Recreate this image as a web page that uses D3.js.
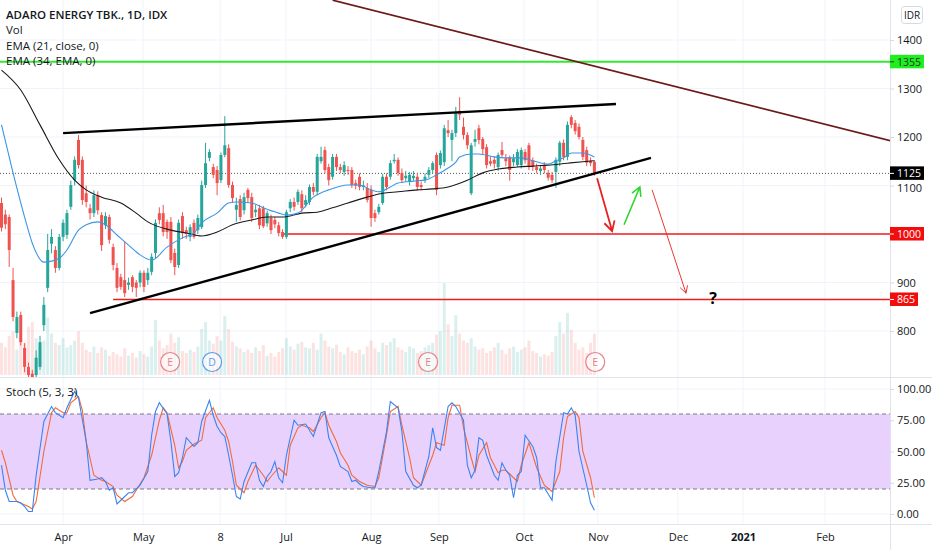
<!DOCTYPE html>
<meta charset="utf-8">
<style>
body { margin: 0; background: #fff; font-family: "Open Sans", "Noto Sans", Arial, sans-serif; }
.axis text { fill: #131722; font-size: 11px; font-family: "Open Sans", Arial, sans-serif; }
.axis path, .axis line { stroke: #d6d9e0; }
.legend { font-size: 11.5px; fill: #131722; }
</style>
<body>
<script src="https://cdnjs.cloudflare.com/ajax/libs/d3/7.8.5/d3.min.js"></script>
<script>

var width = 932, height = 550, axisX = 890;

// daily candles, 9 Mar - 30 Oct 2020
var open = [1064,1040,1035,905,796,833,765,726,712,709,726,812,889,980,967,930,994,998,1056,1111,
  1194,1153,1084,1053,1043,1080,1039,1018,1035,973,930,911,905,895,911,900,900,920,905,922,
  961,1043,1043,1025,1025,961,936,1037,1008,994,1023,1008,1014,1101,1157,1138,1132,1111,1163,1177,
  1101,1050,1072,1049,1091,1076,1045,1053,1053,1022,1033,1029,1018,1004,994,1053,1066,1066,1082,1060,
  1066,1097,1087,1150,1173,1138,1118,1159,1138,1128,1132,1132,1105,1118,1097,1095,1091,1043,1045,1064,
  1118,1118,1150,1153,1126,1115,1108,1115,1118,1101,1112,1122,1132,1163,1142,1148,1214,1194,1208,1254,
  1221,1204,1084,1190,1218,1196,1179,1150,1153,1138,1173,1156,1158,1148,1142,1142,1169,1183,1152,1138,
  1130,1142,1126,1122,1128,1149,1188,1159,1241,1229,1221,1194,1173,1151,1149];
var high = [1075,1050,1040,930,840,840,775,735,720,760,790,870,1000,1010,975,1000,1030,1050,1110,1160,
  1204,1160,1100,1062,1090,1088,1045,1045,1040,980,940,918,985,910,915,905,925,925,930,960,
  1030,1055,1060,1030,1035,970,1030,1045,1015,1020,1030,1040,1110,1188,1175,1145,1140,1168,1243,1185,
  1108,1075,1080,1085,1095,1085,1060,1060,1058,1048,1040,1035,1025,1010,1050,1072,1075,1092,1090,1080,
  1102,1105,1165,1180,1180,1145,1165,1165,1145,1150,1140,1138,1112,1125,1110,1105,1100,1050,1062,1124,
  1125,1152,1165,1158,1135,1130,1128,1130,1125,1108,1125,1138,1150,1168,1172,1225,1235,1215,1262,1282,
  1240,1210,1188,1215,1225,1200,1185,1160,1160,1168,1190,1165,1162,1165,1175,1178,1175,1188,1158,1145,
  1140,1148,1132,1128,1158,1192,1195,1232,1245,1235,1228,1200,1180,1158,1152];
var low = [1005,1010,932,820,785,770,715,695,690,700,720,800,880,960,920,925,985,990,1050,1100,
  1135,1060,1055,1030,1035,1040,965,1010,980,925,880,885,870,885,880,870,890,880,895,915,
  950,1020,995,990,940,915,930,990,990,985,990,1000,1010,1095,1150,1115,1080,1105,1158,1095,
  1065,1025,1028,1040,1065,1025,1035,1010,1012,1015,1000,1012,995,990,990,1045,1048,1060,1045,1055,
  1060,1080,1080,1145,1125,1100,1112,1130,1125,1120,1122,1095,1092,1090,1090,1065,1015,1025,1040,1060,
  1090,1112,1145,1120,1105,1108,1100,1110,1090,1090,1105,1115,1125,1080,1135,1140,1200,1150,1200,1235,
  1195,1175,1080,1180,1185,1165,1135,1140,1135,1130,1158,1140,1110,1140,1138,1135,1145,1132,1130,1125,
  1122,1125,1110,1105,1095,1140,1152,1152,1218,1205,1195,1152,1140,1140,1120];
var close = [1013,1020,967,829,829,777,726,709,698,745,777,854,967,994,930,994,1023,1043,1101,1153,
  1142,1070,1066,1043,1080,1049,977,1037,988,936,889,891,878,900,891,889,920,891,920,953,
  1023,1029,1004,1004,946,932,1023,1002,1000,1014,994,1033,1101,1146,1169,1122,1105,1163,1183,1101,
  1074,1060,1035,1076,1074,1033,1050,1018,1016,1043,1008,1020,1002,994,1045,1066,1056,1087,1053,1070,
  1097,1087,1159,1159,1132,1111,1159,1138,1132,1142,1130,1101,1100,1097,1100,1070,1033,1033,1056,1118,
  1097,1146,1153,1126,1111,1120,1122,1120,1097,1097,1118,1132,1146,1091,1167,1218,1208,1208,1252,1246,
  1204,1183,1183,1196,1194,1175,1142,1145,1145,1163,1163,1150,1132,1156,1169,1173,1152,1138,1138,1132,
  1135,1132,1116,1111,1153,1188,1159,1225,1225,1212,1200,1159,1147,1146,1125];
var volume = [70,60,85,95,55,80,70,105,115,80,60,75,125,90,70,65,80,60,65,75,
  95,70,55,50,62,48,60,55,42,50,45,40,58,42,48,38,52,45,40,62,
  120,75,58,65,90,70,82,52,48,55,50,62,100,115,75,68,85,75,128,100,
  72,62,58,50,55,48,60,52,65,42,48,40,50,58,80,62,55,68,72,60,
  58,70,55,90,75,62,58,66,50,45,60,52,48,55,45,62,75,58,50,70,
  65,72,80,60,55,50,62,58,48,52,60,65,70,88,95,200,110,85,130,90,
  75,70,80,62,55,58,48,52,60,70,55,45,58,62,50,55,60,75,52,48,
  40,45,42,50,85,115,90,135,98,70,55,60,48,70,90];

// moving averages: [bar, price]
var ema21 = [[0,1225],[3,1126],[6,1035],[8,981],[11,942],[15,950],[17,967],[20,1008],[22,1019],[25,1025],
  [27,1019],[30,998],[33,977],[36,957],[39,946],[43,973],[47,992],[50,1002],[52,1023],[56,1043],
  [59,1064],[61,1066],[65,1064],[68,1054],[72,1043],[74,1039],[77,1043],[81,1076],[85,1091],[90,1101],
  [93,1101],[96,1091],[98,1087],[101,1097],[103,1105],[107,1109],[110,1111],[113,1122],[116,1136],[118,1148],
  [119,1159],[122,1165],[124,1165],[128,1159],[131,1157],[135,1157],[138,1151],[142,1144],[144,1151],[146,1157],
  [148,1167],[151,1167],[154,1159]];
var ema34 = [[0,1338],[5,1297],[10,1225],[15,1153],[19,1111],[22,1091],[26,1076],[31,1064],[35,1043],[38,1025],
  [44,1008],[48,1002],[52,996],[56,1004],[60,1019],[65,1029],[69,1035],[73,1035],[78,1043],[82,1045],
  [86,1054],[90,1064],[95,1076],[99,1084],[103,1087],[108,1091],[112,1093],[116,1097],[121,1111],[125,1126],
  [129,1134],[134,1138],[138,1140],[142,1142],[147,1146],[151,1149],[154,1151]];

// stochastic (5,3,3): [bar, value]
var stochK = [[0,39],[1,19],[2,10],[4,10],[5,9],[6,6],[7,2],[8,2],[9,31],[11,74],[13,86],[14,81],[16,77],[17,85],
  [19,98],[20,93],[22,58],[23,27],[25,28],[26,29],[27,26],[28,19],[29,21],[30,8],[31,11],[33,17],[34,17],[36,23],
  [38,34],[39,63],[40,82],[41,89],[43,80],[44,58],[45,30],[46,33],[47,45],[48,61],[50,54],[51,57],[52,74],[54,91],
  [55,79],[56,70],[57,65],[58,62],[59,47],[60,31],[61,14],[62,12],[63,26],[65,41],[66,41],[67,27],[68,22],[69,30],
  [70,34],[71,42],[72,29],[73,25],[74,47],[76,75],[77,71],[79,72],[81,62],[83,81],[84,82],[85,61],[86,54],[87,47],
  [88,38],[90,34],[91,26],[92,27],[93,24],[94,22],[96,21],[97,21],[98,34],[100,66],[101,90],[103,85],[104,66],
  [105,34],[107,23],[108,21],[109,23],[111,46],[112,69],[113,53],[114,51],[116,86],[117,89],[118,86],[120,75],
  [121,39],[122,29],[123,35],[124,61],[125,59],[126,47],[128,31],[129,27],[130,41],[131,35],[132,31],[133,13],
  [134,31],[135,34],[136,63],[138,54],[139,45],[140,21],[141,21],[143,11],[144,42],[146,81],[147,80],[148,85],
  [149,79],[150,50],[152,23],[153,9],[154,3]];
var stochD = [[0,51],[1,41],[3,15],[4,10],[7,6],[8,4],[9,10],[11,50],[13,81],[14,85],[16,81],[17,81],[18,89],
  [20,94],[21,83],[22,58],[24,31],[26,27],[27,26],[29,22],[30,15],[32,10],[34,14],[35,19],[37,29],[39,47],[41,75],
  [42,85],[43,81],[45,55],[46,37],[47,42],[48,51],[50,56],[52,59],[53,77],[55,85],[56,77],[58,67],[59,58],[60,42],
  [61,23],[63,17],[64,26],[66,39],[68,31],[69,26],[70,30],[72,37],[73,34],[74,31],[75,55],[77,69],[78,71],[80,69],
  [81,66],[83,77],[84,81],[85,71],[87,58],[88,49],[90,39],[91,31],[93,26],[95,23],[97,22],[98,29],[100,63],
  [101,82],[103,86],[104,71],[106,45],[107,29],[109,23],[110,31],[112,47],[113,57],[115,55],[116,77],[117,87],
  [119,87],[120,69],[122,45],[123,34],[124,47],[126,57],[127,45],[129,33],[130,35],[131,35],[133,29],[134,26],
  [135,39],[137,57],[139,37],[141,23],[143,18],[145,34],[146,61],[147,78],[149,82],[150,77],[151,50],[153,29],
  [154,13]];

var priceTicks = [800,900,1100,1200,1300,1400];
var gridPrices = [800,900,1000,1100,1200,1300,1400];
var stochTicks = [0,25,50,75,100];
var timeTicks = [16,36.8,56.8,73.9,96,113.6,135.7,154.9,175.7,192.6,213.9];
var timeLabels = ["Apr","May","8","Jul","Aug","Sep","Oct","Nov","Dec","2021","Feb"];

var eventBars = [43.8,54.7,110.8,154.2];
var eventTypes = ["E","D","E","E"];

// drawings
var upperTrend = [[16,1208],[159.6,1268]];
var lowerTrend = [[23,837],[168.7,1157]];
var brownLine = [[86,1482],[232,1190]];
var level1355 = 1355, level1000 = 1000, level865 = 865, lastPrice = 1125;
var start1000 = 73, start865 = 29;
var redArrow = [[154.7,1115],[158.6,1006]];
var greenArrow = [[161.7,1019],[165.8,1097]];
var thinArrow = [[169,1091],[177.8,878]];
var questionAt = [184.8,868];

var up = "#26a69a", down = "#ef5350";

var x = d3.scaleLinear().domain([0,154]).range([1.5,594.4]);
var y = d3.scaleLinear().domain([800,1400]).range([331,40]);
var yVol = d3.scaleLinear().domain([0,200]).range([375,283]);
var yS = d3.scaleLinear().domain([0,100]).range([514,389]);

var svg = d3.select("body").append("svg")
    .attr("width", width)
    .attr("height", height);

svg.append("defs").append("clipPath").attr("id","mainClip")
  .append("rect").attr("x",0).attr("y",0).attr("width",axisX).attr("height",377);

// grid
svg.selectAll(".hgrid").data(gridPrices).enter().append("line")
    .attr("x1",0).attr("x2",axisX)
    .attr("y1",function(d){ return y(d); }).attr("y2",function(d){ return y(d); })
    .style("stroke","#f0f3fa");
svg.selectAll(".sgrid").data(stochTicks).enter().append("line")
    .attr("x1",0).attr("x2",axisX)
    .attr("y1",function(d){ return yS(d); }).attr("y2",function(d){ return yS(d); })
    .style("stroke","#f0f3fa");
svg.selectAll(".vgrid").data(timeTicks).enter().append("line")
    .attr("x1",function(d){ return x(d); }).attr("x2",function(d){ return x(d); })
    .attr("y1",0).attr("y2",524)
    .style("stroke","#f0f3fa");

var main = svg.append("g").attr("clip-path","url(#mainClip)");

// volume
main.selectAll(".vol").data(volume).enter().append("rect")
    .attr("x",function(d,i){ return x(i) - 1.5; })
    .attr("width",3)
    .attr("y",function(d){ return yVol(d); })
    .attr("height",function(d){ return 375 - yVol(d); })
    .style("fill",function(d,i){ return close[i] >= open[i] ? up : down; })
    .style("opacity",0.17);

// events
var ev = main.selectAll(".ev").data(eventBars).enter().append("g")
    .attr("transform",function(d){ return "translate(" + x(d) + ",362)"; });
ev.append("circle").attr("r",9.5)
    .style("fill","rgba(255,255,255,0.6)")
    .style("stroke",function(d,i){ return eventTypes[i] == "D" ? "#5d9ce8" : "#e5838a"; })
    .style("stroke-width",1.2);
ev.append("text").attr("text-anchor","middle").attr("dy","0.36em")
    .style("font-size","10.5px")
    .style("fill",function(d,i){ return eventTypes[i] == "D" ? "#5d9ce8" : "#e5838a"; })
    .text(function(d,i){ return eventTypes[i]; });

// last price dotted line
main.append("line").attr("x1",0).attr("x2",axisX)
    .attr("y1",y(lastPrice)).attr("y2",y(lastPrice))
    .style("stroke","#555").style("stroke-dasharray","1,2").style("stroke-width",1);

// horizontal levels
main.append("line").attr("x1",0).attr("x2",axisX)
    .attr("y1",y(level1355)).attr("y2",y(level1355))
    .style("stroke","#33e833").style("stroke-width",2);
main.append("line").attr("x1",x(start1000)).attr("x2",axisX)
    .attr("y1",y(level1000)).attr("y2",y(level1000))
    .style("stroke","#ee1c1c").style("stroke-width",1.6);
main.append("line").attr("x1",x(start865)).attr("x2",axisX)
    .attr("y1",y(level865)).attr("y2",y(level865))
    .style("stroke","#ee1c1c").style("stroke-width",1.6);

var pline = d3.line().x(function(d){ return x(d[0]); }).y(function(d){ return y(d[1]); });

main.append("path").attr("d",pline(brownLine))
    .style("fill","none").style("stroke","#6b1a1a").style("stroke-width",1.8);

// candles
var c = main.selectAll(".candle").data(close).enter().append("g");
c.append("line")
    .attr("x1",function(d,i){ return x(i); }).attr("x2",function(d,i){ return x(i); })
    .attr("y1",function(d,i){ return y(high[i]); }).attr("y2",function(d,i){ return y(low[i]); })
    .style("stroke",function(d,i){ return d >= open[i] ? up : down; });
c.append("rect")
    .attr("x",function(d,i){ return x(i) - 1.5; })
    .attr("width",3)
    .attr("y",function(d,i){ return y(Math.max(d, open[i])); })
    .attr("height",function(d,i){ return Math.max(1, Math.abs(y(d) - y(open[i]))); })
    .style("fill",function(d,i){ return d >= open[i] ? up : down; });

// EMAs
var eline = d3.line().x(function(d){ return x(d[0]); }).y(function(d){ return y(d[1]); }).curve(d3.curveMonotoneX);
main.append("path").attr("d",eline(ema34))
    .style("fill","none").style("stroke","#1a1a1a").style("stroke-width",1.1);
main.append("path").attr("d",eline(ema21))
    .style("fill","none").style("stroke","#3d95e6").style("stroke-width",1.1);

// trend lines
main.append("path").attr("d",pline(upperTrend))
    .style("fill","none").style("stroke","#000").style("stroke-width",2.4);
main.append("path").attr("d",pline(lowerTrend))
    .style("fill","none").style("stroke","#000").style("stroke-width",2.4);

function arrow(pts, color, w, head) {
  var x0 = x(pts[0][0]), y0 = y(pts[0][1]), x1 = x(pts[1][0]), y1 = y(pts[1][1]);
  var a = Math.atan2(y1 - y0, x1 - x0);
  var s = 0.5;
  var hx1 = x1 - head * Math.cos(a - s), hy1 = y1 - head * Math.sin(a - s);
  var hx2 = x1 - head * Math.cos(a + s), hy2 = y1 - head * Math.sin(a + s);
  main.append("path")
      .attr("d","M" + x0 + "," + y0 + "L" + x1 + "," + y1 + "M" + hx1 + "," + hy1 + "L" + x1 + "," + y1 + "L" + hx2 + "," + hy2)
      .style("fill","none").style("stroke",color).style("stroke-width",w);
}
arrow(redArrow, "#e8221f", 1.8, 11);
arrow(greenArrow, "#2ed62e", 1.6, 10);
arrow(thinArrow, "#e8221f", 0.9, 8);

main.append("text")
    .attr("x",x(questionAt[0])).attr("y",y(questionAt[1]) + 6)
    .attr("text-anchor","middle")
    .style("font-size","16px").style("font-weight","bold").style("fill","#000")
    .text("?");

// stoch pane
svg.append("rect").attr("x",0).attr("width",axisX)
    .attr("y",yS(80)).attr("height",yS(20) - yS(80))
    .style("fill","#e8d2fd");
[80,20].forEach(function(v){
  svg.append("line").attr("x1",0).attr("x2",axisX)
      .attr("y1",yS(v)).attr("y2",yS(v))
      .style("stroke","#787b86").style("stroke-dasharray","4,3");
});
var sline = d3.line().x(function(d){ return x(d[0]); }).y(function(d){ return yS(d[1]); });
svg.append("path").attr("d",sline(stochD))
    .style("fill","none").style("stroke","#f26a3a").style("stroke-width",1.1);
svg.append("path").attr("d",sline(stochK))
    .style("fill","none").style("stroke","#3a83f1").style("stroke-width",1.1);

// pane separators / borders
svg.append("line").attr("x1",0).attr("x2",width).attr("y1",377.5).attr("y2",377.5).style("stroke","#e0e3eb");
svg.append("line").attr("x1",0).attr("x2",width).attr("y1",524.5).attr("y2",524.5).style("stroke","#e0e3eb");
svg.append("line").attr("x1",axisX + 0.5).attr("x2",axisX + 0.5).attr("y1",0).attr("y2",height).style("stroke","#e0e3eb");

// price axis
svg.append("g").attr("class","axis").attr("transform","translate(" + axisX + ",0)")
    .call(d3.axisRight(y).tickValues(priceTicks).tickSize(4).tickPadding(3).tickFormat(d3.format("d")))
    .call(function(g){
      g.select(".domain").remove();
      // 1100 sits right under the last-price tag
      g.selectAll(".tick text").filter(function(d){ return d == 1100; }).attr("y",2.5);
    });

// stoch axis
svg.append("g").attr("class","axis").attr("transform","translate(" + axisX + ",0)")
    .call(d3.axisRight(yS).tickValues(stochTicks).tickSize(4).tickPadding(3).tickFormat(d3.format(".2f")))
    .call(function(g){ g.select(".domain").remove(); });

// time axis
svg.append("g").attr("class","axis").attr("transform","translate(0,529)")
    .call(d3.axisBottom(x).tickValues(timeTicks).tickSize(0).tickPadding(4)
      .tickFormat(function(d,i){ return timeLabels[i]; }))
    .call(function(g){
      g.select(".domain").remove();
      g.selectAll("text").style("font-weight",function(d,i){ return timeLabels[i] == "2021" ? "bold" : "normal"; });
    });

// price tags
function tag(v, bg, fg, w) {
  svg.append("rect").attr("x",axisX).attr("y",y(v) - 7).attr("width",w).attr("height",13.5).style("fill",bg);
  svg.append("line").attr("x1",axisX).attr("x2",axisX + 4).attr("y1",y(v)).attr("y2",y(v)).style("stroke",fg);
  svg.append("text").attr("x",axisX + 7).attr("y",y(v)).attr("dy","0.35em")
      .style("font-size","10.5px").style("fill",fg).text(v);
}
tag(level1355, "#1fef1f", "#1c3a1c", 34);
tag(lastPrice, "#000", "#fff", 34);
tag(level1000, "#f20d0d", "#fff", 34);
tag(level865, "#f20d0d", "#fff", 28);

// currency box
svg.append("rect").attr("x",901.5).attr("y",6.5).attr("width",21).attr("height",17).attr("rx",3)
    .style("fill","#fff").style("stroke","#d6d9e0");
svg.append("text").attr("x",912).attr("y",15).attr("dy","0.35em").attr("text-anchor","middle")
    .style("font-size","10px").style("fill","#131722").text("IDR");

// legend
var legend = ["ADARO ENERGY TBK., 1D, IDX","Vol","EMA (21, close, 0)","EMA (34, EMA, 0)"];
svg.selectAll(".legend").data(legend).enter().append("text")
    .attr("class","legend")
    .attr("x",6).attr("y",function(d,i){ return 15 + i * 15.3; }).attr("dy","0.35em")
    .style("font-weight",function(d,i){ return i == 0 ? 600 : 400; })
    .text(function(d){ return d; });
svg.append("text").attr("class","legend").attr("x",6).attr("y",392).attr("dy","0.35em").text("Stoch (5, 3, 3)");

</script>
